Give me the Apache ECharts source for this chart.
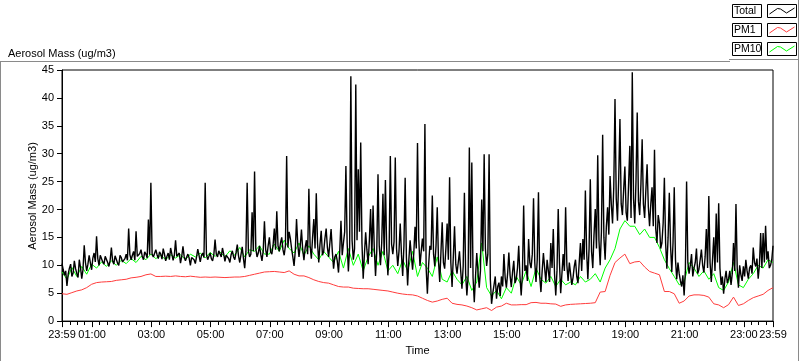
<!DOCTYPE html>
<html><head><meta charset="utf-8">
<script src="https://cdn.jsdelivr.net/npm/echarts@6/dist/echarts.min.js"></script>
<style>html,body{margin:0;padding:0;background:#fff}#c{width:800px;height:361px}</style>
</head><body><div id="c"></div>
<script>
// minutes after 23:59 (start of record)
const totalStep = 5;
const pmStep = 10;

// Total: readings every 5 min (t = 0, 5, 10, ...)
const totalValues = [
10.3, 8.2, 6.3, 9.5, 8.0, 10.8, 8.5, 11.0, 7.6, 13.6,
9.0, 11.8, 9.2, 12.2, 15.2, 10.0, 11.5, 10.2, 11.8, 9.8,
13.2, 10.2, 11.6, 10.0, 11.4, 10.3, 12.0, 16.6, 11.0, 12.5,
16.1, 11.3, 12.8, 11.0, 12.0, 18.2, 24.8, 11.5, 12.8, 11.2,
12.0, 13.0, 10.8, 12.2, 13.1, 10.9, 14.5, 11.3, 10.4, 13.4,
10.8, 12.0, 10.0, 11.6, 10.3, 12.9, 10.6, 12.2, 24.8, 11.0,
12.2, 10.8, 14.6, 11.5, 12.5, 13.1, 10.7, 12.0, 10.5, 12.6,
11.0, 13.7, 10.5, 13.3, 9.5, 24.8, 11.5, 19.5, 26.8, 11.5,
13.5, 10.8, 17.9, 11.5, 15.0, 12.0, 16.6, 19.7, 12.5, 15.0,
11.8, 29.6, 16.0, 13.0, 9.9, 18.3, 11.5, 16.4, 10.9, 14.5,
23.7, 11.2, 18.3, 22.9, 10.5, 16.2, 12.5, 16.6, 11.5, 16.5,
9.4, 12.0, 8.7, 18.0, 14.0, 27.8, 8.9, 43.9, 11.0, 42.4,
27.2, 32.0, 7.6, 15.9, 10.2, 20.1, 20.7, 8.1, 26.3, 10.0,
22.8, 25.3, 8.2, 29.6, 12.0, 29.3, 9.9, 17.5, 8.1, 25.7,
6.4, 14.5, 9.2, 16.9, 31.9, 9.9, 14.8, 35.3, 4.9, 13.5,
22.5, 9.8, 20.4, 7.0, 17.7, 9.4, 17.5, 25.8, 6.1, 17.0,
8.5, 12.5, 5.8, 23.0, 4.6, 31.1, 28.4, 3.4, 12.2, 6.0,
21.8, 29.9, 9.9, 29.9, 3.1, 6.5, 4.0, 6.9, 8.0, 12.0,
6.0, 12.3, 6.1, 10.8, 7.5, 13.5, 4.6, 20.7, 10.0, 14.7,
9.5, 22.0, 7.0, 23.1, 5.2, 12.2, 7.0, 9.0, 14.0, 16.5,
4.6, 20.1, 5.0, 12.0, 20.4, 7.2, 8.5, 7.8, 11.0, 6.8,
14.0, 14.7, 23.4, 7.5, 25.4, 9.5, 20.1, 29.7, 10.0, 33.4,
11.0, 20.4, 26.0, 17.5, 39.8, 18.0, 36.2, 19.0, 27.7, 18.0,
31.4, 44.6, 17.5, 37.4, 19.0, 32.6, 18.5, 28.1, 17.0, 24.0,
30.7, 14.0, 17.5, 14.0, 25.7, 9.4, 23.0, 8.8, 24.0, 7.5,
8.5, 6.2, 4.6, 25.0, 8.5, 12.0, 9.5, 13.0, 9.3, 12.8,
8.7, 16.5, 22.4, 7.0, 15.0, 19.3, 21.1, 6.5, 4.9, 9.0,
7.6, 6.5, 14.0, 21.0, 6.0, 8.3, 9.8, 11.0, 7.6, 10.0,
13.2, 9.8, 7.6, 15.8, 15.8, 17.1, 12.5, 10.0, 13.5
];

// Total: readings half-way between those above (t = 2.5, 7.5, ...)
const totalHalfValues = [
9.2, 9.0, 8.4, 10.2, 8.6, 9.4, 7.8, 9.6, 9.2, 10.5,
10.2, 10.4, 11.3, 10.6, 11.2, 11.8, 10.6, 11.6, 10.5, 10.9,
10.8, 11.7, 10.4, 11.8, 10.6, 11.2, 10.9, 11.9, 11.8, 10.9,
11.6, 12.1, 11.6, 12.4, 11.3, 11.9, 12.0, 11.2, 11.9, 12.4,
11.1, 12.0, 11.6, 11.0, 12.0, 11.8, 11.6, 12.2, 11.6, 11.5,
11.5, 11.3, 11.4, 11.0, 11.5, 11.8, 11.8, 11.4, 12.0, 11.6,
11.2, 11.9, 12.0, 12.6, 11.5, 12.0, 11.8, 11.2, 11.9, 11.5,
12.3, 11.7, 11.9, 11.2, 12.4, 12.6, 12.0, 12.5, 13.0, 12.2,
12.0, 12.6, 12.8, 13.5, 12.4, 13.6, 12.8, 13.5, 14.0, 12.8,
13.5, 13.2, 14.8, 11.5, 12.6, 13.8, 13.5, 12.8, 13.2, 12.0,
13.5, 15.0, 13.0, 14.0, 13.8, 11.8, 14.8, 13.2, 14.0, 12.5,
11.5, 10.8, 12.5, 11.8, 16.0, 14.0, 13.0, 14.5, 13.0, 14.5,
16.0, 14.0, 12.0, 12.8, 14.5, 11.5, 13.0, 12.5, 13.5, 14.0,
11.8, 13.2, 12.5, 13.8, 14.2, 13.0, 12.5, 12.0, 13.5, 11.5,
11.0, 11.8, 12.2, 13.0, 14.8, 12.5, 12.5, 9.5, 10.0, 12.8,
12.0, 13.5, 10.8, 12.4, 10.5, 13.0, 11.0, 10.5, 11.5, 10.2,
10.5, 9.0, 9.8, 8.5, 8.0, 9.5, 7.8, 8.0, 8.8, 9.0,
12.5, 13.0, 12.0, 7.5, 5.0, 8.0, 6.2, 4.5, 6.2, 7.8,
8.5, 8.2, 8.8, 6.8, 9.5, 8.0, 8.5, 9.0, 7.2, 10.5,
12.0, 10.5, 11.0, 8.0, 9.0, 9.5, 11.0, 7.0, 9.5, 8.5,
9.0, 10.5, 8.5, 9.0, 10.0, 10.5, 6.5, 9.8, 8.0, 10.5,
9.0, 11.0, 12.5, 13.0, 12.5, 15.5, 13.0, 14.5, 16.0, 15.0,
17.0, 15.5, 21.0, 24.0, 22.0, 25.5, 21.0, 23.5, 19.5, 24.5,
18.5, 22.0, 25.0, 21.5, 24.5, 21.0, 23.5, 20.5, 21.0, 17.0,
16.5, 19.0, 13.0, 17.5, 14.0, 15.0, 13.5, 14.0, 11.0, 10.5,
7.2, 8.2, 9.0, 10.5, 10.0, 8.0, 10.5, 8.5, 11.0, 10.0,
11.5, 9.5, 10.5, 11.0, 9.0, 10.5, 9.5, 8.0, 7.5, 6.8,
9.0, 8.5, 9.0, 9.5, 10.0, 7.2, 8.0, 9.0, 9.5, 8.5,
10.5, 11.2, 10.0, 9.5, 10.5, 11.0, 9.5, 11.0
];

const pm10Values = [
8.8, 7.5, 9.6, 8.0, 9.8, 8.4, 10.2,
9.5, 10.6, 9.8, 10.8, 10.0, 10.9, 10.3, 11.2, 10.5, 11.6, 11.0, 12.0,
11.2, 11.8, 11.0, 11.9, 11.3, 11.9, 11.0, 12.0, 11.5, 12.2, 11.3, 12.3, 11.6, 12.4, 11.5, 12.6, 11.8, 13.2, 11.5, 12.8, 12.5, 13.5, 12.0,
12.0, 13.8, 12.5, 14.5, 13.0, 12.2, 14.0, 11.8, 13.5, 12.0, 11.0, 12.5,
11.5, 10.5, 12.5, 9.5, 13.0, 10.0, 12.0, 9.0, 11.5, 13.0, 10.0, 12.5,
9.0, 10.0, 8.5, 11.0, 9.0, 12.5, 8.0, 10.5, 9.5, 8.0, 11.5, 7.5,
7.0, 9.0, 7.5, 6.5, 8.0, 5.5, 7.0, 14.0, 6.0, 4.5, 5.5, 4.0,
6.0, 5.0, 8.0, 6.5, 9.0, 6.2, 9.5, 7.5, 6.8, 8.0, 6.2, 7.5,
6.5, 7.0, 6.5, 8.0, 7.0, 7.5, 8.5, 7.0, 9.5, 11.0, 13.0, 16.5,
18.0, 17.0, 17.0, 15.5, 16.5, 15.0, 15.0, 13.2, 11.0, 9.4, 8.0, 6.5,
7.0, 10.5, 9.5, 8.0, 9.0, 7.5, 8.5, 6.0, 5.5, 7.0, 10.5, 6.5, 6.0, 7.5, 8.5, 10.0, 9.5, 11.0, 10.5
];

const pm1Values = [
4.9, 4.8, 5.1, 5.4, 5.6, 6.0, 6.6, 6.9, 7.0, 7.05,
7.1, 7.3, 7.4, 7.5, 7.75, 7.85, 8.0, 8.3, 8.45, 8.0,
8.0, 8.05, 8.0, 8.1, 8.0, 7.95, 8.05, 7.95, 7.85, 7.9,
7.85, 7.9, 7.85, 7.8, 7.85, 7.9, 7.9, 8.0, 8.2, 8.4,
8.6, 8.8, 8.85, 8.9, 8.8, 8.7, 9.0, 8.4, 8.1, 8.1,
7.8, 7.4, 7.1, 6.9, 6.8, 6.5, 6.2, 6.1, 6.1, 5.9,
5.85, 5.8, 5.8, 5.7, 5.6, 5.5, 5.4, 5.2, 5.0, 4.85,
4.75, 4.7, 4.5, 4.1, 3.7, 3.4, 3.6, 3.9, 4.1, 3.2,
3.0, 2.9, 2.7, 2.4, 2.0, 2.2, 2.4, 1.9, 2.5, 2.7,
3.2, 2.9, 2.9, 2.95, 2.95, 3.3, 3.35, 3.2, 3.2, 3.1,
3.05, 2.65, 2.9, 3.0, 3.05, 3.1, 3.15, 3.2, 3.3, 5.2,
5.3, 8.2, 10.5, 11.3, 12.0, 10.3, 10.6, 10.7, 9.7, 8.9,
8.6, 8.3, 5.3, 5.3, 4.9, 3.2, 3.6, 4.5, 4.7, 4.7,
4.6, 4.3, 3.1, 2.9, 2.4, 2.95, 4.3, 2.8, 3.1, 3.7,
4.2, 4.5, 4.8, 5.5, 6.0
];

const xLabelValues = [0, 61, 181, 301, 421, 541, 661, 781, 901, 1021, 1141, 1261, 1381, 1440];
const xLabelTexts = ['23:59', '01:00', '03:00', '05:00', '07:00', '09:00', '11:00', '13:00', '15:00', '17:00', '19:00', '21:00', '23:00', '23:59'];
const minorTickValues = [];
for (let m = 16; m < 1440; m += 15) minorTickValues.push(m);

const seriesNames = ['Total', 'PM1', 'PM10'];
const seriesColors = ['#000000', '#ff3c3c', '#00ff00'];
const yAxisTitle = 'Aerosol Mass (ug/m3)';

const totalData = [];
totalValues.forEach((v, i) => {
  totalData.push([i * totalStep, v]);
  if (i < totalHalfValues.length) totalData.push([i * totalStep + totalStep / 2, totalHalfValues[i]]);
});

const FONT = 'Liberation Sans';
const chart = echarts.init(document.getElementById('c'), null, {renderer: 'canvas'});

function legendGraphics() {
  const out = [];
  const tops = [4.5, 23.5, 42.5];
  const zig = [[2, 7.5], [10, 2], [13, 2.5], [19, 6.5], [27, 1.5]];
  seriesNames.forEach((name, k) => {
    const y = tops[k];
    out.push({type: 'rect', shape: {x: 732.5, y: y, width: 29, height: 13}, style: {fill: '#fff', stroke: '#000', lineWidth: 1}});
    out.push({type: 'text', x: 734, y: y + 7, style: {text: name, fill: '#000', font: '10.5px ' + FONT, textVerticalAlign: 'middle'}});
    out.push({type: 'rect', shape: {x: 767.5, y: y, width: 29, height: 13}, style: {fill: '#fff', stroke: '#000', lineWidth: 1}});
    out.push({type: 'polyline', shape: {points: zig.map(p => [767.5 + p[0], y + 2 + p[1]])}, style: {stroke: seriesColors[k], lineWidth: 1, fill: null}});
  });
  // y-axis title, rotated
  out.push({type: 'text', x: 33, y: 196, rotation: Math.PI / 2,
            style: {text: yAxisTitle, fill: '#000', font: '11px ' + FONT, textAlign: 'center', textVerticalAlign: 'middle'}});
  out.push({type: 'line', shape: {x1: 0, y1: 61.5, x2: 730, y2: 61.5}, style: {stroke: '#8a8a8a', lineWidth: 1}});
  out.push({type: 'line', shape: {x1: 729, y1: 59.5, x2: 799, y2: 59.5}, style: {stroke: '#8a8a8a', lineWidth: 1}});
  out.push({type: 'line', shape: {x1: 0.5, y1: 61, x2: 0.5, y2: 361}, style: {stroke: '#8a8a8a', lineWidth: 1}});
  out.push({type: 'line', shape: {x1: 798.5, y1: 0, x2: 798.5, y2: 361}, style: {stroke: '#8a8a8a', lineWidth: 1}});
  return out;
}

const option = {
  animation: false,
  backgroundColor: '#fff',
  title: {text: 'Aerosol Mass (ug/m3)', left: 3, top: 43, textStyle: {fontSize: 11, fontWeight: 'normal', color: '#000', fontFamily: FONT}},
  grid: [
    {left: 62, right: 27, top: 70, bottom: 39, show: true, borderColor: '#000', borderWidth: 1, backgroundColor: '#fff'},
    {left: 62, right: 27, top: 70, bottom: 39, show: false}
  ],
  xAxis: [
    {type: 'value', gridIndex: 0, min: 0, max: 1440,
     name: 'Time', nameLocation: 'middle', nameGap: 23, nameTextStyle: {fontSize: 11, color: '#000', fontFamily: FONT},
     axisLine: {show: true, onZero: false, lineStyle: {color: '#000', width: 1}},
     axisTick: {show: true, customValues: xLabelValues, length: 6, lineStyle: {color: '#000'}},
     axisLabel: {show: true, customValues: xLabelValues, formatter: v => xLabelTexts[xLabelValues.indexOf(v)], margin: 8, color: '#000', fontSize: 11, fontFamily: FONT},
     splitLine: {show: false}},
    {type: 'value', gridIndex: 1, min: 0, max: 1440,
     axisLine: {show: false}, axisLabel: {show: false}, splitLine: {show: false},
     axisTick: {show: true, customValues: minorTickValues, length: 3, lineStyle: {color: '#000'}}}
  ],
  yAxis: [
    {type: 'value', gridIndex: 0, min: 0, max: 45, interval: 5,
     axisLine: {show: true, lineStyle: {color: '#000', width: 1}},
     axisTick: {show: true, length: 5, lineStyle: {color: '#000'}},
     axisLabel: {margin: 8, color: '#000', fontSize: 11, fontFamily: FONT},
     splitLine: {show: false}},
    {type: 'value', gridIndex: 1, min: 0, max: 45, show: false}
  ],
  graphic: legendGraphics(),
  series: [
    {name: 'PM10', type: 'line', xAxisIndex: 0, yAxisIndex: 0, showSymbol: false, symbol: 'none', z: 2,
     lineStyle: {color: seriesColors[2], width: 1}, data: pm10Values.map((v, i) => [i * pmStep, v])},
    {name: 'Total', type: 'line', xAxisIndex: 0, yAxisIndex: 0, showSymbol: false, symbol: 'none', z: 3,
     lineStyle: {color: seriesColors[0], width: 1.4}, data: totalData},
    {name: 'PM1', type: 'line', xAxisIndex: 0, yAxisIndex: 0, showSymbol: false, symbol: 'none', z: 4,
     lineStyle: {color: seriesColors[1], width: 1}, data: pm1Values.map((v, i) => [i * pmStep, v])}
  ]
};
chart.setOption(option);
</script></body></html>
